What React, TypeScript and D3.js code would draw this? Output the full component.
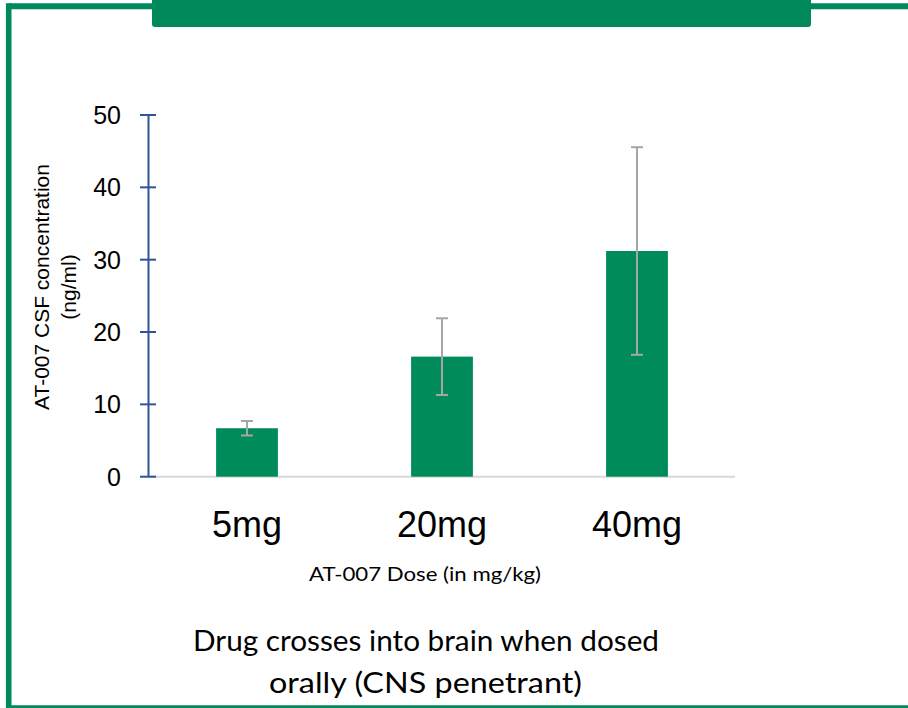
import React from "react";
import * as d3 from "d3";

const categories = ["5mg", "20mg", "40mg"];
const means = [6.7, 16.6, 31.2];
const errors = [1.0, 5.3, 14.35];
const yTicks = [0, 10, 20, 30, 40, 50];

const GREEN = "#00895A";

export default function App() {
  const W = 908, H = 708;
  const x = d3.scaleBand<string>().domain(categories).range([149.5, 734.5]).paddingInner(0.683).paddingOuter(0.3415);
  const y = d3.scaleLinear().domain([0, 50]).range([476.7, 115]);
  const axisX = 148.5;
  const font = "'Liberation Sans', Arial, sans-serif";
  const font2 = "Lato, 'Open Sans', sans-serif";
  return (
    <svg width={W} height={H} style={{ position: "absolute", left: 0, top: 0, background: "#fff" }}>
      <rect x={0} y={0} width={W} height={H} fill="#fff" />
      {/* frame */}
      <line x1={8.7} y1={6.3} x2={W} y2={6.3} stroke={GREEN} strokeWidth={6} />
      <line x1={8.7} y1={3.3} x2={8.7} y2={H} stroke={GREEN} strokeWidth={5.6} />
      <line x1={6} y1={706.8} x2={W} y2={706.8} stroke={GREEN} strokeWidth={3} />
      <rect x={152} y={-10} width={659} height={37} rx={3} fill={GREEN} />
      {/* baseline */}
      <line x1={axisX} y1={y(0)} x2={735} y2={y(0)} stroke="#D9D9D9" strokeWidth={2} />
      {/* bars */}
      {categories.map((c, i) => (
        <rect key={c} x={x(c)} y={y(means[i])} width={x.bandwidth()} height={y(0) - y(means[i])} fill="#008C5A" />
      ))}
      {/* error bars */}
      {categories.map((c, i) => {
        const cx = (x(c) as number) + x.bandwidth() / 2;
        const t = y(means[i] + errors[i]);
        const b = y(means[i] - errors[i]);
        return (
          <g key={c} stroke="#A6A6A6" strokeWidth={2}>
            <line x1={cx} x2={cx} y1={t} y2={b} />
            <line x1={cx - 6} x2={cx + 6} y1={t} y2={t} />
            <line x1={cx - 6} x2={cx + 6} y1={b} y2={b} />
          </g>
        );
      })}
      {/* y axis */}
      <line x1={axisX} x2={axisX} y1={y(50)} y2={y(0)} stroke="#2F5597" strokeWidth={2} />
      {yTicks.map((t) => (
        <g key={t}>
          <line x1={140} x2={156} y1={y(t)} y2={y(t)} stroke="#2F5597" strokeWidth={2} />
          <text x={121} y={y(t)} dy="0.36em" textAnchor="end" fontFamily={font} fontSize={25} fill="#000">
            {t}
          </text>
        </g>
      ))}
      {/* x labels */}
      {categories.map((c) => (
        <text key={c} x={(x(c) as number) + x.bandwidth() / 2} y={537} textAnchor="middle" fontFamily={font} fontSize={36} fill="#000">
          {c}
        </text>
      ))}
      <text x={425} y={581} textAnchor="middle" fontFamily={font2} fontSize={20} textLength={232} lengthAdjust="spacingAndGlyphs" fill="#000">
        AT-007 Dose (in mg/kg)
      </text>
      {/* y title */}
      <g transform="translate(0,287) rotate(-90)">
        <text x={0} y={49} textAnchor="middle" fontFamily={font} fontSize={21} fill="#000">
          AT-007 CSF concentration
        </text>
        <text x={0} y={76} textAnchor="middle" fontFamily={font} fontSize={21} fill="#000">
          (ng/ml)
        </text>
      </g>
      {/* caption */}
      <text x={426} y={651} textAnchor="middle" fontFamily={font2} fontSize={29} textLength={466} lengthAdjust="spacingAndGlyphs" fill="#000">
        Drug crosses into brain when dosed
      </text>
      <text x={425.5} y={693} textAnchor="middle" fontFamily={font2} fontSize={29} textLength={313} lengthAdjust="spacingAndGlyphs" fill="#000">
        orally (CNS penetrant)
      </text>
    </svg>
  );
}
